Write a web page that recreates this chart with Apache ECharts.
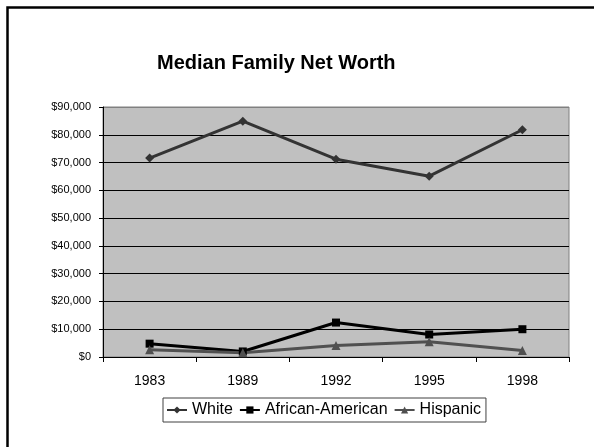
<!DOCTYPE html>
<html>
<head>
<meta charset="utf-8">
<script src="https://cdn.jsdelivr.net/npm/echarts@6/dist/echarts.min.js"></script>
<style>
  html, body { margin: 0; padding: 0; background: #ffffff; }
  #chart { width: 594px; height: 447px; }
</style>
</head>
<body>
<div id="chart"></div>
<script>
// Survey years
const years = ['1983', '1989', '1992', '1995', '1998'];

// Median family net worth, dollars
const white = [71600, 84900, 71200, 65100, 81800];
const africanAmerican = [4800, 2000, 12400, 8100, 10000];
const hispanic = [2600, 1500, 4100, 5500, 2300];

// Value axis ticks
const yMin = 0;
const yMax = 90000;
const yStep = 10000;

const fmtDollar = v => '$' + v.toLocaleString('en-US');

// Grid lines are black, except the top edge which shares the plot border grey
const gridColors = [];
for (let v = yMin; v <= yMax; v += yStep) gridColors.push(v === yMax ? '#808080' : '#000000');

const FONT = '"Liberation Sans", Arial, sans-serif';

const chart = echarts.init(document.getElementById('chart'), null, { renderer: 'canvas' });

chart.setOption({
  animation: false,
  backgroundColor: '#ffffff',
  textStyle: { fontFamily: FONT },
  title: {
    text: 'Median Family Net Worth',
    left: 157,
    top: 53,
    padding: 0,
    textStyle: { fontSize: 20, fontWeight: 'bold', color: '#000000', fontFamily: FONT }
  },
  graphic: [{
    type: 'rect',
    shape: { x: 7.5, y: 7.5, width: 620, height: 480 },
    style: { fill: null, stroke: '#000000', lineWidth: 2.5 },
    silent: true
  }],
  grid: {
    left: 103, right: 25, top: 107, bottom: 90,
    show: true,
    backgroundColor: '#c0c0c0',
    borderColor: '#808080',
    borderWidth: 1
  },
  legend: {
    left: 163,
    top: 398,
    padding: [4, 5, 4, 3],
    itemGap: 6,
    itemWidth: 20,
    itemHeight: 9,
    borderColor: '#404040',
    borderWidth: 1,
    textStyle: { fontSize: 16, color: '#000000', fontFamily: FONT },
    data: ['White', 'African-American', 'Hispanic']
  },
  xAxis: {
    type: 'category',
    data: years,
    boundaryGap: true,
    axisLine: { lineStyle: { color: '#000000', width: 1 } },
    axisTick: { show: true, length: 5, lineStyle: { color: '#000000' } },
    axisLabel: { color: '#000000', fontSize: 14, margin: 17, fontFamily: FONT },
    splitLine: { show: false }
  },
  yAxis: {
    type: 'value',
    min: yMin,
    max: yMax,
    interval: yStep,
    axisLine: { show: true, lineStyle: { color: '#000000', width: 1 } },
    axisTick: { show: true, length: 4, lineStyle: { color: '#000000' } },
    axisLabel: { color: '#000000', fontSize: 11, margin: 12, formatter: fmtDollar, fontFamily: FONT },
    splitLine: { show: true, lineStyle: { color: gridColors, width: 1 } }
  },
  series: [
    {
      name: 'White',
      type: 'line',
      data: white,
      symbol: 'diamond',
      symbolSize: 9,
      lineStyle: { color: '#333333', width: 3 },
      itemStyle: { color: '#333333' }
    },
    {
      name: 'African-American',
      type: 'line',
      data: africanAmerican,
      symbol: 'rect',
      symbolSize: 8,
      lineStyle: { color: '#000000', width: 3 },
      itemStyle: { color: '#000000' }
    },
    {
      name: 'Hispanic',
      type: 'line',
      data: hispanic,
      symbol: 'triangle',
      symbolSize: 9,
      lineStyle: { color: '#505050', width: 3 },
      itemStyle: { color: '#505050' }
    }
  ]
});
</script>
</body>
</html>
